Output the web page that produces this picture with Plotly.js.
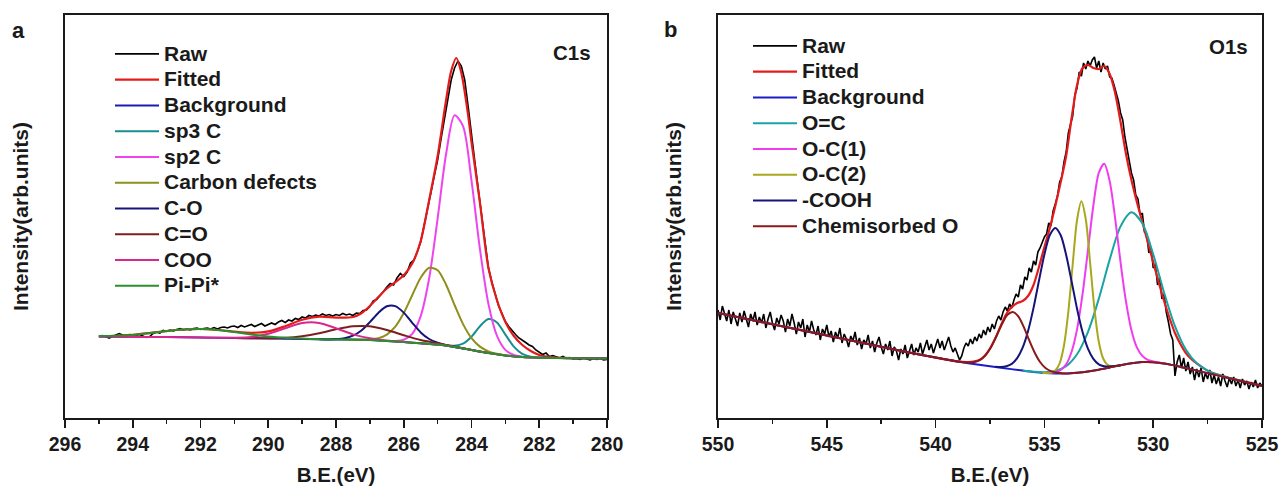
<!DOCTYPE html>
<html>
<head>
<meta charset="utf-8">
<script src="https://cdn.plot.ly/plotly-3.0.1.min.js"></script>
<style>
html,body{margin:0;padding:0;background:#fff;}
#chart{width:1281px;height:488px;}
</style>
</head>
<body>
<div id="chart"></div>
<script>
// ---------- Panel a : C1s ----------
const C_RAW_START = 295, C_RAW_STEP = 0.1;
const C_raw = [81.5,82.5,81.8,80.0,81.5,83.0,84.5,83.0,82.5,83.5,
83.0,82.8,83.5,82.0,80.5,81.5,84.5,86.0,85.0,87.5,
86.5,88.0,87.0,88.5,89.5,88.0,89.0,88.0,89.5,90.0,
88.5,89.5,90.0,89.0,90.5,89.0,90.5,91.0,90.0,91.5,
92.0,90.5,92.5,91.0,92.0,93.5,91.5,93.0,94.5,92.0,
93.5,95.0,93.5,96.0,97.5,95.5,98.0,97.0,99.5,98.5,
101.0,100.0,102.5,101.5,103.0,102.0,104.0,102.5,103.5,102.0,
103.5,102.5,104.5,103.0,104.0,102.5,105.0,104.5,107.5,108.0,
111.5,117.0,118.5,122.0,126.5,131.0,134.5,133.0,140.0,144.5,
141.5,146.0,155.0,158.0,166.0,176.0,191.5,208.0,225.0,242.0,
258.0,279.0,299.0,319.0,338.0,350.0,357.0,352.0,338.0,312.0,
282.0,256.0,229.0,203.0,176.0,150.0,136.0,124.0,112.0,104.5,
96.5,91.5,87.0,83.5,80.0,78.0,75.5,73.0,71.5,68.0,
66.0,63.5,65.0,61.5,62.5,61.0,60.0,61.5,59.5,60.5,
59.0,59.5,58.5,60.0,59.0,58.0,59.5,58.5,59.5,58.0,
58.5];

const C_fit_x = [295,294.5,294,293.5,293,292.5,292,291.5,291,290.5,290,289.5,289,288.5,288,287.5,287.25,287,286.75,286.5,286.25,286,285.75,285.5,285.25,285,284.75,284.6,284.45,284.3,284.1,284,283.75,283.5,283.25,283,282.75,282.5,282.25,282,281.75,281.5,281,280];
const C_fit_y = [81.9,82.2,83.1,84.9,87,88.5,89,88,86.3,85.2,86.6,91.8,98.2,101.3,100.4,101,104.8,112,120.9,129.5,135.9,142.7,154.4,177,218,262,318,347,360,345,303,276,215,150,118,96,82,73,67,63,61.3,60.3,59.8,59.5];

const C_bg_x = [295,294,293,292,291,290,289,288,287,286.5,286,285.5,285,284.5,284,283.5,283,282.5,282,281,280];
const C_bg_y = [81.5,81,81,80.5,80,79.5,79,78.5,78,77,76,74.7,73.5,71,68,65,62.5,61,60.3,59.7,59.5];

const C_sp3_x = [285.5,285,284.75,284.5,284.25,284,283.75,283.5,283.25,283,282.75,282.5,282.25,282,281.5];
const C_sp3_y = [74.7,73.5,72.5,72.3,74.4,81.3,91.8,98.9,95.5,83.4,71.4,64.1,61.3,60.4,60];

const C_sp2_x = [286.75,286.5,286.25,286,285.75,285.5,285.25,285,284.75,284.5,284.25,284,283.75,283.5,283.25,283,282.75,282.5,282.25];
const C_sp2_y = [77.5,77,77,78.3,84.2,101.9,139.7,199.4,264,302.7,291.8,237.3,168.7,114,82.4,68.1,63.1,61.3,60.6];

const C_def_x = [287.75,287.5,287.25,287,286.75,286.5,286.25,286,285.75,285.5,285.25,285,284.75,284.5,284.25,284,283.75,283.5,283.25,283,282.75];
const C_def_y = [78.4,78.3,78.3,78.7,79.8,83.4,91.3,104.9,122.8,140.3,150.2,147.8,133.3,113,93.9,79.9,71.4,66.7,64.2,62.6,61.7];

const C_co_x = [288.5,288.25,288,287.75,287.5,287.25,287,286.75,286.5,286.25,286,285.75,285.5,285.25,285,284.75,284.5,284.25];
const C_co_y = [78.7,78.6,78.9,79.8,82.3,87.5,95.9,105.1,111.7,111.9,105.4,95.2,85.6,79,75.3,72.8,71.1,69.5];

const C_cdo_x = [291,290.5,290,289.5,289,288.5,288,287.5,287,286.5,286,285.5,285,284.5,284,283.5];
const C_cdo_y = [80,79.7,79.8,80.2,81.8,84.7,88.7,91.7,91.7,88,82.8,78,74.7,71.4,68.1,65];

const C_coo_x = [295,294,293,292,291.5,291,290.5,290,289.5,289,288.5,288,287.5,287,286.5,286,285.5,285,284.5,284,283.5,283,282.5,282,281,280];
const C_coo_y = [81.5,81,81,80.5,80.2,80.3,81.1,84.2,89.8,95,95.1,89.8,83.6,79.7,77.4,76,74.7,73.5,71,68,65,62.5,61,60.3,59.7,59.5];

const C_pi_x = [295,294.5,294,293.5,293,292.5,292,291.5,291,290.5,290,289.5,289,288.5,288,287,286.5,286,285.5,285,284.5,284,283.5,283,282.5,282,281,280];
const C_pi_y = [81.9,82.2,83.1,84.9,87,88.5,89,88,86,83.6,81.6,80.2,79.4,78.8,78.5,78,77,76,74.7,73.5,71,68,65,62.5,61,60.3,59.7,59.5];

const C_names = ['Raw','Fitted','Background','sp3 C','sp2 C','Carbon defects','C-O','C=O','COO','Pi-Pi*'];
const C_ticks = [296,294,292,290,288,286,284,282,280];

// ---------- Panel b : O1s ----------
const O_RAW_START = 550, O_RAW_STEP = 0.1;
const O_raw = [108,98,112,103,97,108,94,106,100,92,
105,96,107,99,91,104,97,106,93,101,
95,104,90,99,106,95,88,100,94,103,
97,86,99,92,104,95,84,96,90,99,
81,93,86,97,88,83,92,78,89,84,
93,81,87,76,86,80,90,75,84,79,
71,82,77,86,73,80,69,78,74,83,
70,77,66,75,81,71,64,74,68,77,
62,71,67,58,69,64,73,60,67,74,
63,70,66,75,64,72,78,68,74,65,
73,79,70,77,68,74,81,72,66,70,
64,58,62,70,75,72,79,74,81,77,
84,80,88,83,91,86,94,89,97,102,
98,106,111,107,114,110,118,124,121,133,
129,141,138,150,146,157,153,166,170,176,
181,184,195,192,207,214,222,236,241,256,
266,285,293,302,323,330,346,342,355,349,
357,352,358,361,350,357,346,355,349,352,
341,340,333,326,317,305,298,281,268,257,
245,238,223,219,203,205,186,184,165,171,
150,154,133,141,119,124,106,96,84,78,
42,56,63,50,60,47,56,44,51,38,
49,41,50,36,45,39,48,35,43,34,
41,32,44,37,31,40,34,41,32,38,
30,39,33,37,29,36,31,38,30,35,
32];

const O_fit_x = [550,549,548,547,546,545,544,543,542,541,540,539,538.5,538,537.75,537.5,537.25,537,536.75,536.5,536.25,536,535.75,535.5,535.25,535,534.75,534.5,534.25,534,533.75,533.5,533.25,533,532.75,532.5,532.25,532,531.75,531.5,531.25,531,530.75,530.5,530.25,530,529.75,529.5,529.25,529,528.75,528.5,528.25,528,527.5,527,526.5,526,525.5,525];
const O_fit_y = [105,100.5,96,91.5,87,82.5,78,73.5,69,64.6,60.4,56.6,56,58,62,69.5,80,92.5,104,111,115,117,122,133,151,171,190,212,236,262,300,333,350,353,350,349,352,344,325,296,264,238,216,196,176,156,136,117,100,85,74,65,59,54.7,47.4,43.1,40,37.3,34.7,32.1];

const O_bg_x = [550,549,548,547,546,545,544,543,542,541,540,539,538,537,536,535.5,535,534.5,534,533.5,533,532.5,532,531.5,531,530.5,530,529.5,529,528.5,528,527.5,527,526.5,526,525.5,525];
const O_bg_y = [105,100.5,96,91.5,87,82.5,78,73.5,69,64.6,60.4,56.6,53.2,50.2,47.4,46.1,45.1,44.6,44.6,45.3,46.5,48.3,50.5,52.8,54.7,55.9,55.8,54.5,52.4,49.9,47.4,44.9,42.4,39.8,37.3,34.7,32.1];

const O_oc_x = [536,535.5,535,534.5,534,533.5,533,532.5,532,531.5,531,530.5,530,529.5,529,528.5,528,527.5,527,526.5,526];
const O_oc_y = [47.4,46.3,45.8,47.1,51.9,63.8,85.9,119.2,158.4,191.6,205.7,194.7,163.7,125.4,91.8,68.4,54.7,47.4,43.1,40,37.3];

const O_oc1_x = [535,534.75,534.5,534.25,534,533.75,533.5,533.25,533,532.75,532.5,532.25,532,531.75,531.5,531.25,531,530.75,530.5,530.25,530,529.5];
const O_oc1_y = [45.1,45.2,45.7,48,53.6,66.2,88.6,123.3,167.5,212.5,245.2,254.3,236.9,199.9,155.6,116.3,87.8,70.6,62.1,58.1,56.5,54.5];

const O_oc2_x = [535.1,534.9,534.7,534.5,534.3,534.1,533.9,533.7,533.5,533.3,533.1,532.9,532.7,532.5,532.3,532.1,531.9,531.7,531.5];
const O_oc2_y = [45.3,45,45.4,47.5,54.7,72.5,106.3,153.5,198,216.8,199,155.5,109.2,76.2,59.5,53.2,51.9,52.2,52.8];

const O_cooh_x = [537.25,537,536.75,536.5,536.25,536,535.75,535.5,535.25,535,534.75,534.5,534.25,534,533.75,533.5,533.25,533,532.75,532.5,532.25,532,531.75,531.5];
const O_cooh_y = [51.3,51.1,51.8,54.1,59.8,70.3,87,110.1,137.3,163.6,183,190.1,182.8,163.1,136.6,109.3,86.2,69.4,59.2,53.7,51.7,51.4,51.9,52.8];

const O_chem_x = [550,549,548,547,546,545,544,543,542,541,540,539,538.7,538.45,538.2,537.95,537.7,537.45,537.2,536.95,536.7,536.45,536.2,535.95,535.7,535.45,535.2,534.95,534.7,534.45,534.2,534,533.5,533,532.5,532,531.5,531,530.5,530,529.5,529,528.5,528,527.5,527,526.5,526,525.5,525];
const O_chem_y = [105,100.5,96,91.5,87,82.5,78,73.5,69,64.6,60.4,56.6,55.7,55.6,56,58.1,62.9,71,82,93.9,103.1,106.1,101.7,91.1,77.8,65.5,56,50,46.8,45.4,44.8,44.6,45.3,46.5,48.3,50.5,52.8,54.7,55.9,55.8,54.5,52.4,49.9,47.4,44.9,42.4,39.8,37.3,34.7,32.1];

const O_names = ['Raw','Fitted','Background','O=C','O-C(1)','O-C(2)','-COOH','Chemisorbed O'];
const O_ticks = [550,545,540,535,530,525];

// ---------- build ----------
const FONT = 'Liberation Sans, Arial, sans-serif';
const W = 1281, H = 488;
function energies(start, step, n){ const a=[]; for(let i=0;i<n;i++) a.push(+(start - i*step).toFixed(2)); return a; }
// legend label rendered a bit larger than the legend row pitch font
function label(s){ return '<span style="font-size:21px">' + s + '</span>'; }

function tr(x, y, name, color, width, xa, ya, leg, smooth){
  return {x:x, y:y, name:label(name), type:'scatter', mode:'lines', xaxis:xa, yaxis:ya, legend:leg,
    line:{color:color, width:width, shape: smooth ? 'spline' : 'linear', smoothing: smooth ? 0.8 : 0},
    hoverinfo:'skip'};
}

const traces = [
  tr(energies(C_RAW_START, C_RAW_STEP, C_raw.length), C_raw, C_names[0], '#000000', 1.6, 'x', 'y', 'legend', false),
  tr(C_fit_x, C_fit_y, C_names[1], '#e41b1b', 2.2, 'x', 'y', 'legend', true),
  tr(C_bg_x, C_bg_y, C_names[2], '#1c1cb4', 2, 'x', 'y', 'legend', true),
  tr(C_sp3_x, C_sp3_y, C_names[3], '#178f8f', 2, 'x', 'y', 'legend', true),
  tr(C_sp2_x, C_sp2_y, C_names[4], '#ee44ee', 2, 'x', 'y', 'legend', true),
  tr(C_def_x, C_def_y, C_names[5], '#8f8f1c', 2, 'x', 'y', 'legend', true),
  tr(C_co_x, C_co_y, C_names[6], '#14147a', 2, 'x', 'y', 'legend', true),
  tr(C_cdo_x, C_cdo_y, C_names[7], '#7d1f1f', 2, 'x', 'y', 'legend', true),
  tr(C_coo_x, C_coo_y, C_names[8], '#d8288c', 2, 'x', 'y', 'legend', true),
  tr(C_pi_x, C_pi_y, C_names[9], '#2b8f2b', 2, 'x', 'y', 'legend', true),

  tr(energies(O_RAW_START, O_RAW_STEP, O_raw.length), O_raw, O_names[0], '#000000', 1.6, 'x2', 'y2', 'legend2', false),
  tr(O_fit_x, O_fit_y, O_names[1], '#e41b1b', 2.2, 'x2', 'y2', 'legend2', true),
  tr(O_bg_x, O_bg_y, O_names[2], '#1c1cc8', 2, 'x2', 'y2', 'legend2', true),
  tr(O_oc_x, O_oc_y, O_names[3], '#1aa3a3', 2, 'x2', 'y2', 'legend2', true),
  tr(O_oc1_x, O_oc1_y, O_names[4], '#f03cf0', 2, 'x2', 'y2', 'legend2', true),
  tr(O_oc2_x, O_oc2_y, O_names[5], '#a8a81e', 2, 'x2', 'y2', 'legend2', true),
  tr(O_cooh_x, O_cooh_y, O_names[6], '#14147a', 2, 'x2', 'y2', 'legend2', true),
  tr(O_chem_x, O_chem_y, O_names[7], '#8a1a1a', 2, 'x2', 'y2', 'legend2', true)
];

const INK = '#1a1a1a';
const tickFont = {family:FONT, size:19.5, color:INK, weight:'bold'};
const xTitleFont = {family:FONT, size:20.5, color:INK, weight:'bold'};
const yTitleFont = {family:FONT, size:21, color:INK, weight:'bold'};
function xax(domain, range, ticks, minorStep){
  return {domain:domain, range:range, tickvals:ticks, ticktext:ticks.map(String), ticks:'outside', ticklen:8, tickwidth:1.6, tickcolor:INK,
    minor:{dtick:minorStep, tick0:range[1], ticks:'outside', ticklen:4, tickwidth:1.5, tickcolor:INK, showgrid:false},
    showline:true, mirror:true, linecolor:INK, linewidth:1.8, showgrid:false, zeroline:false,
    tickfont:tickFont, title:{text:'B.E.(eV)', font:xTitleFont, standoff:13}, automargin:false, fixedrange:true};
}
function yax(anchor){
  return {domain:[70/H, 473/H], range:[0,403], anchor:anchor, showticklabels:false, ticks:'', showline:true, mirror:true,
    linecolor:INK, linewidth:1.8, showgrid:false, zeroline:false,
    title:{text:'Intensity(arb.units)', font:yTitleFont, standoff:29}, automargin:false, fixedrange:true};
}
const legFont = {family:FONT, size:17.5, color:INK, weight:'bold'};
const layout = {
  width:W, height:H, margin:{l:0,r:0,t:0,b:0}, paper_bgcolor:'#ffffff', plot_bgcolor:'#ffffff', showlegend:true,
  xaxis: xax([65/W, 607/W], [296,280], C_ticks, 1),
  yaxis: yax('x'),
  xaxis2: xax([718/W, 1262/W], [550,525], O_ticks, 2.5),
  yaxis2: yax('x2'),
  legend:{x:110/W, y:1-36/H, xanchor:'left', yanchor:'top', bgcolor:'rgba(0,0,0,0)', borderwidth:0, font:legFont, itemwidth:44, tracegroupgap:0},
  legend2:{x:748/W, y:1-28/H, xanchor:'left', yanchor:'top', bgcolor:'rgba(0,0,0,0)', borderwidth:0, font:legFont, itemwidth:44, tracegroupgap:0},
  annotations:[
    {text:'a', x:10/W, y:1-30/H, xref:'paper', yref:'paper', xanchor:'left', yanchor:'middle', showarrow:false, font:{family:FONT, size:22, color:INK, weight:'bold'}},
    {text:'b', x:662/W, y:1-29.5/H, xref:'paper', yref:'paper', xanchor:'left', yanchor:'middle', showarrow:false, font:{family:FONT, size:22, color:INK, weight:'bold'}},
    {text:'C1s', x:572/W, y:1-52.5/H, xref:'paper', yref:'paper', xanchor:'center', yanchor:'middle', showarrow:false, font:{family:FONT, size:20.5, color:INK, weight:'bold'}},
    {text:'O1s', x:1228/W, y:1-46.5/H, xref:'paper', yref:'paper', xanchor:'center', yanchor:'middle', showarrow:false, font:{family:FONT, size:20.5, color:INK, weight:'bold'}}
  ]
};
Plotly.newPlot('chart', traces, layout, {displayModeBar:false, staticPlot:true});
</script>
</body>
</html>
